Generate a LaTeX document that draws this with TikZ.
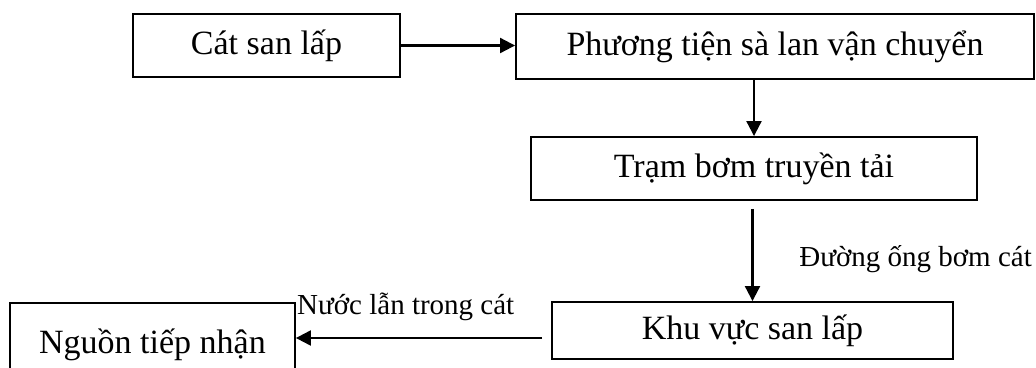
\documentclass[tikz,border=0pt]{standalone}
\usepackage{fontspec}
\setmainfont{Liberation Serif}
\usetikzlibrary{arrows.meta}
\newcommand\bigtxt{\fontsize{34}{40}\selectfont}
\newcommand\lbltxt{\fontsize{29}{34}\selectfont}
\begin{document}
\begin{tikzpicture}[x=1pt,y=-1pt,
  box/.style={draw, line width=1.9pt, inner sep=0pt, font=\bigtxt, anchor=center},
  arr/.style={line width=2.1pt, -{Triangle[length=15pt,width=15pt]}},
  lbl/.style={inner sep=0pt, font=\lbltxt}]
\useasboundingbox (0,0) rectangle (1036,367);
\clip (0,0) rectangle (1036,367);
\fill[white] (0,0) rectangle (1036,367);
\node[box, minimum width=267pt, minimum height=63pt] (A) at (266.5,45.5) {Cát san lấp};
\node[box, minimum width=518pt, minimum height=65pt] (B) at (775,46.5) {Phương tiện sà lan vận chuyển};
\node[box, minimum width=446pt, minimum height=63pt] (C) at (754,168.5) {Trạm bơm truyền tải};
\node[box, minimum width=401pt, minimum height=57pt] (D) at (752.5,330.5) {Khu vực san lấp};
\node[box, anchor=north west, minimum width=285pt, text height=51pt, text depth=60pt] (E) at (9,302) {Nguồn tiếp nhận};
\draw[arr] (A.east) -- (A.east -| B.west);
\draw[arr] (C.north |- B.south) -- (C.north);
\draw[arr] ([yshift=-8pt]C.south -| D.north) -- (D.north);
\coordinate (Dout) at ([xshift=-9pt,yshift=-7.5pt]D.west);
\draw[arr] (Dout) -- (Dout -| E.east);
\node[lbl, anchor=base east] (L1) at (1032,266) {Đường ống bơm cát};
\node[lbl, anchor=base west] (L2) at (297,314) {Nước lẫn trong cát};
\end{tikzpicture}
\end{document}
